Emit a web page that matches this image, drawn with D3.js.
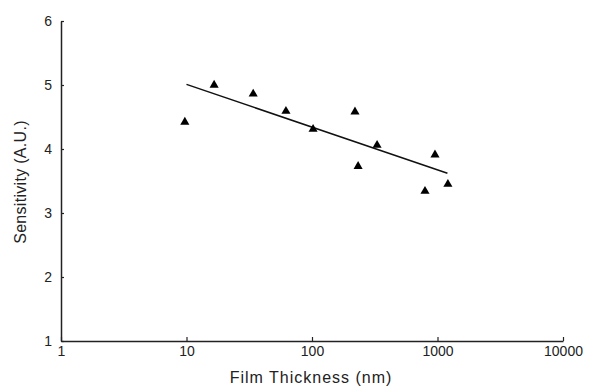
<!DOCTYPE html>
<html><head><meta charset="utf-8">
<script src="https://cdn.jsdelivr.net/npm/d3@7/dist/d3.min.js"></script>
<style>body{margin:0;background:#fff}svg{display:block}text{font-family:"Liberation Sans",Arial,sans-serif;fill:#222}</style>
</head><body>
<script>
const thickness = [9.7, 16.6, 34, 62, 102, 220, 233, 330, 795, 955, 1210];
const sensitivity = [4.42, 5.0, 4.86, 4.59, 4.31, 4.58, 3.73, 4.06, 3.34, 3.91, 3.45];
const fitX = [10, 1200];
const fitY = [5.01, 3.62];
const xTicks = [1, 10, 100, 1000, 10000];
const yTicks = [1, 2, 3, 4, 5, 6];

const W = 590, H = 388;
const svg = d3.select("body").append("svg").attr("width", W).attr("height", H);
const x = d3.scaleLog().domain([1, 10000]).range([61, 563]);
const y = d3.scaleLinear().domain([1, 6]).range([341, 21]);

// axes
const xa = svg.append("g").attr("transform", `translate(0,${y(1)})`)
  .call(d3.axisBottom(x).tickValues(xTicks).tickFormat(d3.format("d")).tickSizeInner(-4).tickSizeOuter(0).tickPadding(8));
const ya = svg.append("g").attr("transform", `translate(${x(1)},0)`)
  .call(d3.axisLeft(y).tickValues(yTicks).tickFormat(d3.format("d")).tickSizeInner(-3).tickSizeOuter(0).tickPadding(9));
[xa, ya].forEach(g => {
  g.select(".domain").attr("stroke", "#222").attr("stroke-width", 1.5);
  g.selectAll(".tick line").attr("stroke", "#222").attr("stroke-width", 1.2);
  g.selectAll("text").attr("font-size", 14).style("font-family", '"Liberation Sans",Arial,sans-serif').attr("fill", "#222");
});
xa.selectAll(".tick text").attr("dy", "0.5em");

// fit line
const fit = fitX.map((v, i) => [v, fitY[i]]);
svg.append("path").datum(fit)
  .attr("d", d3.line().x(d => x(d[0])).y(d => y(d[1])))
  .attr("stroke", "#111").attr("stroke-width", 1.5).attr("fill", "none");

// triangles
const tri = d3.symbol().type(d3.symbolTriangle).size(36);
svg.append("g").selectAll("path").data(thickness.map((v, i) => [v, sensitivity[i]]))
  .join("path")
  .attr("d", tri)
  .attr("transform", d => `translate(${x(d[0])},${y(d[1])})`)
  .attr("fill", "#000");

// labels
svg.append("text").attr("x", 311).attr("y", 383).attr("text-anchor", "middle")
  .attr("font-size", 16).attr("letter-spacing", 1).text("Film Thickness (nm)");
svg.append("text").attr("transform", "translate(26,182) rotate(-90)").attr("text-anchor", "middle")
  .attr("font-size", 16).attr("letter-spacing", 0.3).text("Sensitivity (A.U.)");
</script>
</body></html>
